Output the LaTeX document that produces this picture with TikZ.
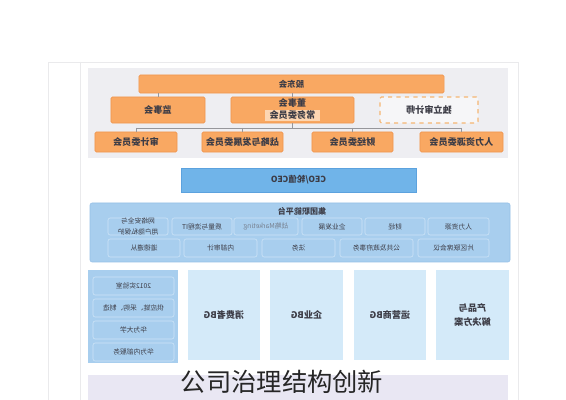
\documentclass[tikz,border=0pt]{standalone}
\usepackage{fontspec}
\usepackage{graphicx}
\newfontfamily\cjk{Noto Sans CJK SC}
\usetikzlibrary{positioning}
\definecolor{frameline}{RGB}{234,234,236}
\definecolor{panelgrey}{RGB}{238,238,242}
\definecolor{orgfill}{RGB}{249,168,98}
\definecolor{orgline}{RGB}{240,150,80}
\definecolor{orghigh}{RGB}{253,214,178}
\definecolor{auditfill}{RGB}{246,246,248}
\definecolor{auditline}{RGB}{245,182,115}
\definecolor{linkgrey}{RGB}{150,150,155}
\definecolor{ceofill}{RGB}{112,180,233}
\definecolor{ceoline}{RGB}{92,162,222}
\definecolor{platfill}{RGB}{168,206,238}
\definecolor{platline}{RGB}{150,192,232}
\definecolor{platinner}{RGB}{205,228,247}
\definecolor{bgfill}{RGB}{212,234,249}
\definecolor{bandfill}{RGB}{233,231,243}
\definecolor{txtdark}{RGB}{60,60,70}
\definecolor{txtlight}{RGB}{120,130,145}
\newcommand{\mir}[1]{\reflectbox{#1}}
\tikzset{
    orgbox/.style={draw=orgline, fill=orgfill, rounded corners=1pt, inner sep=0pt,
        font=\cjk\bfseries\fontsize{6.5}{7.5}\selectfont, text=txtdark},
    orglabel/.style={inner sep=0pt, font=\cjk\bfseries\fontsize{6.5}{7.5}\selectfont, text=txtdark},
    orghigh/.style={fill=orghigh, inner sep=0pt, font=\cjk\bfseries\fontsize{6.5}{7.5}\selectfont, text=txtdark},
    auditbox/.style={draw=auditline, dashed, line width=0.8pt, fill=auditfill, rounded corners=1pt,
        inner sep=0pt, font=\cjk\bfseries\fontsize{6.5}{7.5}\selectfont, text=txtdark},
    link/.style={draw=linkgrey, line width=0.4pt},
    ceobox/.style={draw=ceoline, fill=ceofill, inner sep=0pt,
        font=\cjk\bfseries\fontsize{6}{7}\selectfont, text=txtdark},
    platbox/.style={draw=platinner, fill=platfill, rounded corners=1.5pt, inner sep=0pt, align=center,
        font=\cjk\fontsize{4.8}{5.2}\selectfont, text=txtdark},
    bgbox/.style={fill=bgfill, inner sep=0pt, align=center,
        font=\cjk\bfseries\fontsize{6.5}{7.5}\selectfont, text=txtdark},
    caption/.style={inner sep=0pt, font=\cjk\fontsize{18}{20}\selectfont, text=black!85}
}
\begin{document}
\begin{tikzpicture}[x=0.025cm, y=-0.025cm]
    \useasboundingbox[fill=white] (0,0) rectangle (566,400);
    % page frame
    \draw[frameline, line width=0.5pt] (48,400) -- (48,62) -- (518,62) -- (518,400);
    \draw[frameline, line width=0.5pt] (80,62) -- (80,400);

    % governance
    \fill[panelgrey] (88,68) rectangle (508,158);
    \node[orgbox, minimum width=7.625cm, minimum height=0.45cm, font=\cjk\bfseries\fontsize{6}{7}\selectfont] (gdh) at (291.5,84) {\mir{股东会}};
    \node[orgbox, minimum width=2.35cm, minimum height=0.65cm] (jsh) at (158,110) {\mir{监事会}};
    \node[orgbox, minimum width=3.075cm, minimum height=0.65cm] (dsh) at (292.5,110) {};
    \node[orglabel] (dshtxt) at (292.5,103.5) {\mir{董事会}};
    \node[orghigh, minimum width=1.375cm, minimum height=0.275cm] (cwwy) at (292.5,115.5) {\mir{常务委员会}};
    \node[auditbox, minimum width=2.45cm, minimum height=0.65cm] (dlsj) at (429,110) {\mir{独立审计师}};

    \node[orgbox, minimum width=2.05cm, minimum height=0.5cm] (sjwy) at (136,142) {\mir{审计委员会}};
    \node[orgbox, minimum width=2.025cm, minimum height=0.5cm] (zlwy) at (242.5,142) {\mir{战略与发展委员会}};
    \node[orgbox, minimum width=2.025cm, minimum height=0.5cm] (cjwy) at (352.5,142) {\mir{财经委员会}};
    \node[orgbox, minimum width=2.075cm, minimum height=0.5cm] (rlwy) at (461.5,142) {\mir{人力资源委员会}};

    \draw[link] (gdh.south -| jsh.north) -- (jsh.north);
    \draw[link] (gdh.south -| dsh.north) -- (dsh.north);
    \coordinate (bus) at (292,128);
    \draw[link] (dsh.south) -- (dsh.south |- bus);
    \draw[link] (sjwy.north |- bus) -- (rlwy.north |- bus);
    \foreach \n in {sjwy,zlwy,cjwy,rlwy}
        \draw[link] (\n.north |- bus) -- (\n.north);

    % CEO
    \node[ceobox, minimum width=5.875cm, minimum height=0.6cm] (ceo) at (298.5,180) {\mir{CEO/轮值CEO}};

    % group functions
    \filldraw[fill=platfill, draw=platline, rounded corners=1.5pt] (90,203) rectangle (510,262);
    \node[orglabel, font=\cjk\bfseries\fontsize{5.7}{6.5}\selectfont] (plat) at (302,211) {\mir{集团职能平台}};

    \node[platbox, minimum width=1.5cm, minimum height=0.425cm] (wlaq) at (138,226.5) {\mir{\shortstack{网络安全与\\用户隐私保护}}};
    \node[platbox, minimum width=1.5cm, minimum height=0.425cm] (zllc) at (202,226.5) {\mir{质量与流程IT}};
    \node[platbox, minimum width=1.6cm, minimum height=0.425cm, text=txtlight] (zlmk) at (266,226.5) {\mir{战略Marketing}};
    \node[platbox, minimum width=1.5cm, minimum height=0.425cm] (qyfz) at (332,226.5) {\mir{企业发展}};
    \node[platbox, minimum width=1.5cm, minimum height=0.425cm] (cj) at (395,226.5) {\mir{财经}};
    \node[platbox, minimum width=1.525cm, minimum height=0.425cm] (rlzy) at (458.5,226.5) {\mir{人力资源}};

    \node[platbox, minimum width=1.8cm, minimum height=0.45cm] (ddzc) at (144,248) {\mir{道德遵从}};
    \node[platbox, minimum width=1.825cm, minimum height=0.45cm] (nbsj) at (220.5,248) {\mir{内部审计}};
    \node[platbox, minimum width=1.825cm, minimum height=0.45cm] (fw) at (298.5,248) {\mir{法务}};
    \node[platbox, minimum width=1.825cm, minimum height=0.45cm] (ggzf) at (376.5,248) {\mir{公共及政府事务}};
    \node[platbox, minimum width=1.775cm, minimum height=0.45cm] (pqlx) at (453.5,248) {\mir{片区联席会议}};

    % business groups
    \fill[platfill] (88,270) rectangle (178,363);
    \node[platbox, minimum width=2.025cm, minimum height=0.45cm] (sys) at (133.5,286) {\mir{2012实验室}};
    \node[platbox, minimum width=2.025cm, minimum height=0.45cm] (gyl) at (133.5,308) {\mir{供应链、采购、制造}};
    \node[platbox, minimum width=2.025cm, minimum height=0.45cm] (hwdx) at (133.5,330) {\mir{华为大学}};
    \node[platbox, minimum width=2.025cm, minimum height=0.45cm] (nbfw) at (133.5,352) {\mir{华为内部服务}};

    \node[bgbox, minimum width=1.8cm, minimum height=2.25cm] (xfz) at (224,315) {\mir{消费者BG}};
    \node[bgbox, minimum width=1.8cm, minimum height=2.25cm] (qy) at (306.5,315) {\mir{企业BG}};
    \node[bgbox, minimum width=1.8cm, minimum height=2.25cm] (yys) at (390,315) {\mir{运营商BG}};
    \node[bgbox, minimum width=1.8cm, minimum height=2.25cm] (cpjj) at (472.5,315) {\mir{\shortstack{产品与\\解决方案}}};

    % bottom band and caption
    \fill[bandfill] (88,375) rectangle (508,400);
    \node[caption] (cap) at (282,382) {公司治理结构创新};
\end{tikzpicture}
\end{document}
